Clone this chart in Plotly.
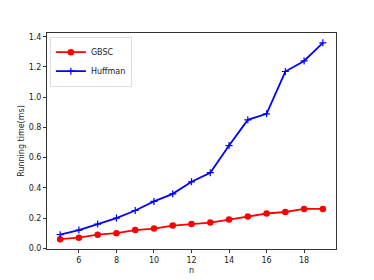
import plotly.graph_objects as go

n = [5, 6, 7, 8, 9, 10, 11, 12, 13, 14, 15, 16, 17, 18, 19]
gbsc = [0.06, 0.07, 0.09, 0.10, 0.12, 0.13, 0.15, 0.16, 0.17, 0.19, 0.21, 0.23, 0.24, 0.26, 0.26]
huffman = [0.09, 0.12, 0.16, 0.20, 0.25, 0.31, 0.36, 0.44, 0.50, 0.68, 0.85, 0.89, 1.17, 1.24, 1.36]
xticks = [6, 8, 10, 12, 14, 16, 18]
yticks = [0.0, 0.2, 0.4, 0.6, 0.8, 1.0, 1.2, 1.4]

fig = go.Figure()
fig.add_trace(go.Scatter(x=n, y=gbsc, mode="lines+markers", name="GBSC",
                         line=dict(color="#ff0000", width=1.8),
                         marker=dict(symbol="circle", size=6.5, color="#ff0000")))
fig.add_trace(go.Scatter(x=n, y=huffman, mode="lines+markers", name="Huffman",
                         line=dict(color="#0000ff", width=1.8),
                         marker=dict(symbol="cross-thin", size=5, line=dict(color="#0000ff", width=1.2))))

axis_common = dict(showline=True, linecolor="#333333", linewidth=1, mirror=True,
                   ticks="outside", ticklen=3, tickcolor="#333333", showgrid=False,
                   zeroline=False, automargin=False,
                   tickfont=dict(family="DejaVu Sans", size=8, color="#222222"))
# the page body has an 8px default margin, so the figure is sized to fill the rest
fig.update_layout(
    width=366, height=272,
    margin=dict(l=39, r=38, t=25, b=31),
    paper_bgcolor="white", plot_bgcolor="white",
    font=dict(family="DejaVu Sans", size=8, color="#222222"),
    showlegend=True,
    legend=dict(x=0.01, y=0.983, xanchor="left", yanchor="top",
                bgcolor="rgba(255,255,255,0.8)", bordercolor="#dddddd", borderwidth=1,
                font=dict(size=8), tracegroupgap=0, itemwidth=30),
    xaxis=dict(range=[4.3, 19.7], tickvals=xticks, ticktext=[str(v) for v in xticks],
               title=dict(text="n", standoff=3, font=dict(size=8)), **axis_common),
    yaxis=dict(range=[-0.005, 1.425], tickvals=yticks, ticktext=[f"{v:.1f}" for v in yticks],
               title=dict(text="Running time(ms)", standoff=2, font=dict(size=8)), **axis_common),
)
fig.write_html("out.html")
